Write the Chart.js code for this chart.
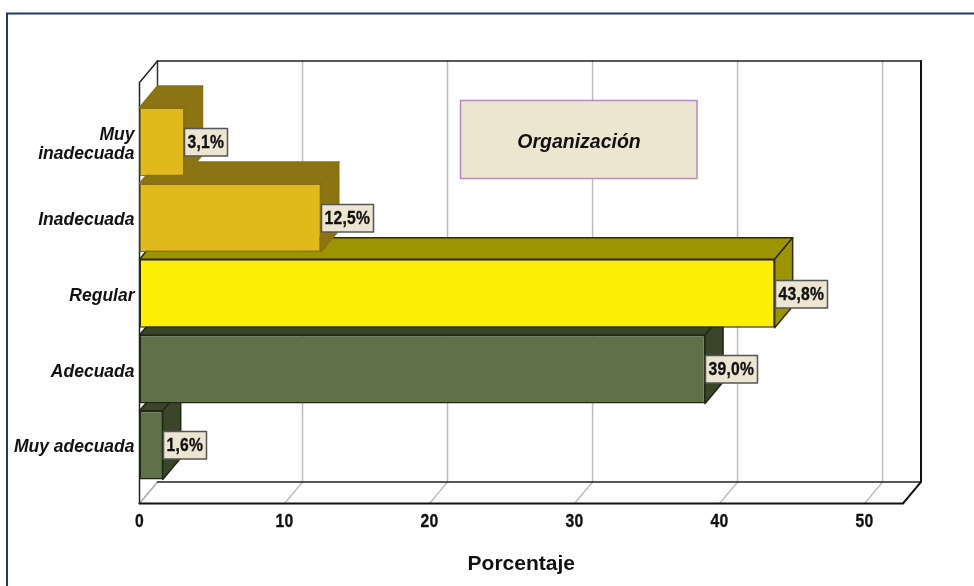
<!DOCTYPE html>
<html lang="es">
<head>
<meta charset="utf-8">
<title>Organización</title>
<script src="https://cdn.jsdelivr.net/npm/chart.js@4/dist/chart.umd.min.js"></script>
<style>
  html, body { margin: 0; padding: 0; background: #fff; }
  canvas { display: block; }
</style>
</head>
<body>
<canvas id="chart" width="974" height="586"></canvas>
<script>
// Level of organisation, lowest row first on the axis
const categories = ['Muy adecuada', 'Adecuada', 'Regular', 'Inadecuada', ['Muy', 'inadecuada']];
const percentages = [1.6, 39.0, 43.8, 12.5, 3.1];
const frontColors = ['#5e7149', '#5e7149', '#fcee05', '#e0b91c', '#e0b91c'];
const sideColors = ['#3a4529', '#3a4529', '#9c9400', '#8c7412', '#8c7412'];
const edgeColors = ['#1f2814', '#1f2814', '#2e2c00', '#8a7212', '#8a7212'];
const axisTitle = 'Porcentaje';
const noteText = 'Organización';

const DEPTH_X = 18;
const DEPTH_Y = 21.5;
const SANS_FONT = '"Liberation Sans", Arial, sans-serif';
const CONDENSE = 0.87;

function polygon(ctx, pts, fill, stroke) {
  ctx.beginPath();
  pts.forEach((p, i) => (i ? ctx.lineTo(p[0], p[1]) : ctx.moveTo(p[0], p[1])));
  ctx.closePath();
  ctx.fillStyle = fill;
  ctx.fill();
  ctx.lineWidth = 1.5;
  ctx.strokeStyle = stroke;
  ctx.lineJoin = 'round';
  ctx.stroke();
}

// Bold numerals squeezed horizontally, since no narrow face is available;
// a hairline stroke restores the weight lost to the squeeze.
function condensedText(ctx, text, x, y, align) {
  const w = ctx.measureText(text).width * CONDENSE;
  const startX = align === 'center' ? x - w / 2 : x;
  ctx.save();
  ctx.translate(startX, y);
  ctx.scale(CONDENSE, 1);
  ctx.textAlign = 'left';
  ctx.fillText(text, 0, 0);
  ctx.strokeStyle = ctx.fillStyle;
  ctx.lineWidth = 0.35;
  ctx.strokeText(text, 0, 0);
  ctx.restore();
  return w;
}

// Horizontal bars with a top and a side face, painted bottom row first
// so that each upper bar overlaps the one beneath it.
class PrismBarController extends Chart.BarController {
  draw() {
    const ctx = this._ctx;
    this._cachedMeta.data.forEach((bar, i) => {
      const top = bar.y - bar.height / 2;
      const bottom = bar.y + bar.height / 2;
      polygon(ctx, [
        [bar.base, top], [bar.base + DEPTH_X, top - DEPTH_Y],
        [bar.x + DEPTH_X, top - DEPTH_Y], [bar.x, top]
      ], sideColors[i], edgeColors[i]);
      polygon(ctx, [
        [bar.x, top], [bar.x + DEPTH_X, top - DEPTH_Y],
        [bar.x + DEPTH_X, bottom - DEPTH_Y], [bar.x, bottom]
      ], sideColors[i], edgeColors[i]);
      bar.draw(ctx);
    });
  }
}
PrismBarController.id = 'prismBar';
PrismBarController.defaults = Chart.BarController.defaults;
PrismBarController.overrides = Chart.BarController.overrides;
Chart.register(PrismBarController);

// Outer frame, back wall, floor and gridlines of the 3D box
const boxPlugin = {
  id: 'box',
  beforeDatasetsDraw(chart) {
    const { ctx, chartArea: a, scales: { x } } = chart;
    const left = a.left, right = a.right;
    const backBottom = a.bottom - 1;
    const frontBottom = backBottom + DEPTH_Y;
    const backTop = a.top - 43;
    const frontTop = backTop + DEPTH_Y;

    ctx.save();
    ctx.strokeStyle = '#1f3a6e';
    ctx.lineWidth = 2;
    ctx.strokeRect(7, 13.5, 1200, 800);

    ctx.lineCap = 'round';
    const line = (color, width, pts) => {
      ctx.beginPath();
      pts.forEach((p, i) => (i ? ctx.lineTo(p[0], p[1]) : ctx.moveTo(p[0], p[1])));
      ctx.strokeStyle = color;
      ctx.lineWidth = width;
      ctx.stroke();
    };

    x.ticks.forEach(t => {
      const px = x.getPixelForValue(t.value);
      if (t.value === 0) return;
      line('#bdbdbd', 1.5, [[px, frontBottom], [px + DEPTH_X, backBottom], [px + DEPTH_X, backTop]]);
    });
    line('#a8a8a8', 1.5, [[left, frontBottom], [left + DEPTH_X, backBottom]]);
    line('#333333', 1.5, [[left + DEPTH_X, a.top], [left + DEPTH_X, backTop]]);
    line('#222222', 1.5, [[left + DEPTH_X, backBottom], [right + DEPTH_X, backBottom]]);
    line('#222222', 1.5, [[left + DEPTH_X, backTop], [right + DEPTH_X, backTop]]);
    line('#111111', 2, [[right + DEPTH_X, backTop], [right + DEPTH_X, backBottom], [right, frontBottom], [left, frontBottom]]);
    line('#222222', 1.5, [[left + DEPTH_X, backTop], [left, frontTop], [left, frontBottom]]);

    // Note box on the back wall
    ctx.fillStyle = '#ece5d0';
    ctx.fillRect(460.5, 100.5, 236.5, 78);
    ctx.strokeStyle = '#b08fbd';
    ctx.lineWidth = 1.5;
    ctx.strokeRect(460.5, 100.5, 236.5, 78);
    ctx.fillStyle = '#111';
    ctx.font = 'italic bold 19.5px ' + SANS_FONT;
    ctx.textAlign = 'center';
    ctx.textBaseline = 'middle';
    ctx.fillText(noteText, 579, 143);

    // Value-axis numerals, condensed
    ctx.font = 'bold 18px ' + SANS_FONT;
    ctx.letterSpacing = '0.3px';
    ctx.textBaseline = 'middle';
    x.ticks.forEach(t => condensedText(ctx, String(t.value), x.getPixelForValue(t.value), 522, 'center'));
    ctx.restore();
  }
};

// Value tags to the right of each bar
const tagPlugin = {
  id: 'tags',
  afterDatasetsDraw(chart) {
    const { ctx } = chart;
    const bars = chart.getDatasetMeta(0).data;
    ctx.save();
    ctx.font = 'bold 18px ' + SANS_FONT;
    ctx.letterSpacing = '0.3px';
    ctx.textBaseline = 'middle';
    bars.forEach((bar, i) => {
      const text = percentages[i].toFixed(1).replace('.', ',') + '%';
      const w = Math.round(ctx.measureText(text).width * CONDENSE) + 6;
      const bx = Math.round(bar.x) + 0.5;
      const by = Math.round(bar.y) - 13.5;
      ctx.fillStyle = '#ebe5d1';
      ctx.fillRect(bx, by, w, 27.5);
      ctx.strokeStyle = '#555';
      ctx.lineWidth = 1.5;
      ctx.strokeRect(bx, by, w, 27.5);
      ctx.fillStyle = '#111';
      condensedText(ctx, text, bx + 3, by + 14.5, 'left');
    });
    ctx.restore();
  }
};

new Chart(document.getElementById('chart'), {
  type: 'prismBar',
  data: {
    labels: categories,
    datasets: [{
      data: percentages,
      backgroundColor: frontColors,
      borderColor: edgeColors,
      borderWidth: 1.5,
      borderSkipped: false,
      categoryPercentage: 1,
      barPercentage: 0.905,
      clip: false
    }]
  },
  plugins: [boxPlugin, tagPlugin],
  options: {
    indexAxis: 'y',
    responsive: false,
    animation: false,
    layout: { padding: { left: 0, top: 104, right: 71, bottom: 0 } },
    plugins: { legend: { display: false }, tooltip: { enabled: false }, title: { display: false } },
    scales: {
      x: {
        type: 'linear',
        min: 0,
        max: 52.65,
        grid: { display: false, drawTicks: false },
        border: { display: false },
        ticks: {
          stepSize: 10,
          includeBounds: false,
          maxRotation: 0,
          display: false
        },
        title: {
          display: true,
          text: axisTitle,
          color: '#111',
          font: { family: SANS_FONT, size: 21, weight: 'bold' },
          padding: { top: 0, bottom: 9 }
        },
        afterFit(scale) { scale.height = 103; }
      },
      y: {
        type: 'category',
        reverse: true,
        grid: { display: false, drawTicks: false },
        border: { display: false },
        ticks: {
          padding: 5,
          color: '#111',
          autoSkip: false,
          labelOffset: 2.5,
          font: { family: SANS_FONT, size: 17.5, weight: 'bold', style: 'italic', lineHeight: 1.1 }
        },
        afterFit(scale) { scale.width = 139.5; }
      }
    }
  }
});
</script>
</body>
</html>
